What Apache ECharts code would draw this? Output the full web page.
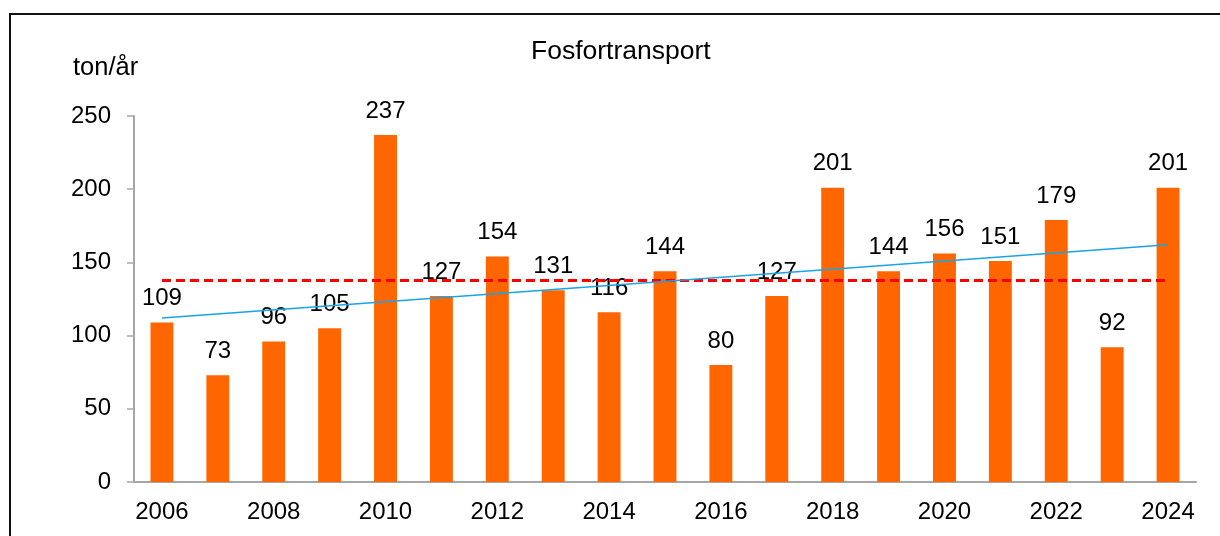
<!DOCTYPE html>
<html>
<head>
<meta charset="utf-8">
<script src="https://cdn.jsdelivr.net/npm/echarts@6/dist/echarts.min.js"></script>
<style>
  html, body { margin: 0; padding: 0; background: #fff; }
  #chart { width: 1220px; height: 536px; }
</style>
</head>
<body>
<div id="chart"></div>
<script>
// år og fosfortransport (ton/år)
var years = ['2006', '2007', '2008', '2009', '2010', '2011', '2012', '2013', '2014', '2015',
  '2016', '2017', '2018', '2019', '2020', '2021', '2022', '2023', '2024']
var transport = [109, 73, 96, 105, 237, 127, 154, 131, 116, 144, 80, 127, 201, 144, 156, 151, 179, 92, 201]
// middelverdi (rød stiplet) og trend (blå), lest av figuren
var meanValue = 138
var trendStart = 112
var trendEnd = 162
var yTicks = [0, 50, 100, 150, 200, 250]

var myChart = echarts.init(document.getElementById('chart'))
var fontFamily = 'Liberation Sans, Arial, sans-serif'
var last = years.length - 1

var option = {
  animation: false,
  backgroundColor: '#ffffff',
  textStyle: { fontFamily: fontFamily },
  title: {
    text: 'Fosfortransport',
    left: 531,
    top: 38,
    padding: 0,
    textStyle: { fontSize: 26.5, fontWeight: 'normal', color: '#000', fontFamily: fontFamily }
  },
  graphic: [
    // ramme (topp og venstre)
    { type: 'line', shape: { x1: 9, y1: 14, x2: 1220, y2: 14 }, style: { stroke: '#111', lineWidth: 2 } },
    { type: 'line', shape: { x1: 10, y1: 14, x2: 10, y2: 536 }, style: { stroke: '#111', lineWidth: 2 } },
    {
      type: 'text', left: 73, top: 55,
      style: { text: 'ton/år', fontSize: 25.5, fill: '#000', fontFamily: fontFamily }
    }
  ],
  grid: { left: 134, right: 24, top: 116, bottom: 54 },
  xAxis: {
    type: 'category',
    data: years,
    axisLine: { lineStyle: { color: '#a6a6a6', width: 2 } },
    axisTick: { interval: 1, length: 8, lineStyle: { color: '#a6a6a6', width: 1.5 } },
    axisLabel: { interval: 1, fontSize: 24, color: '#000', margin: 18, fontFamily: fontFamily }
  },
  yAxis: {
    type: 'value',
    min: yTicks[0],
    max: yTicks[yTicks.length - 1],
    interval: 50,
    splitLine: { show: false },
    axisLine: { show: true, lineStyle: { color: '#a6a6a6', width: 2 } },
    axisTick: { show: true, length: 7, lineStyle: { color: '#a6a6a6', width: 1.5 } },
    axisLabel: { fontSize: 24, color: '#000', margin: 23, fontFamily: fontFamily }
  },
  series: [
    {
      name: 'Fosfortransport',
      type: 'bar',
      data: transport,
      barWidth: '41%',
      itemStyle: { color: '#ff6600' },
      label: {
        show: true,
        position: 'top',
        distance: 12,
        fontSize: 24,
        color: '#000',
        fontFamily: fontFamily
      },
      markLine: {
        silent: true,
        symbol: 'none',
        label: { show: false },
        data: [
          [
            { coord: [0, meanValue], lineStyle: { color: '#ff0000', width: 3, type: [9, 5] } },
            { coord: [last, meanValue] }
          ],
          [
            { coord: [0, trendStart], lineStyle: { color: '#1aa3e8', width: 1.5, type: 'solid' } },
            { coord: [last, trendEnd] }
          ]
        ]
      }
    }
  ]
}

myChart.setOption(option)
</script>
</body>
</html>
